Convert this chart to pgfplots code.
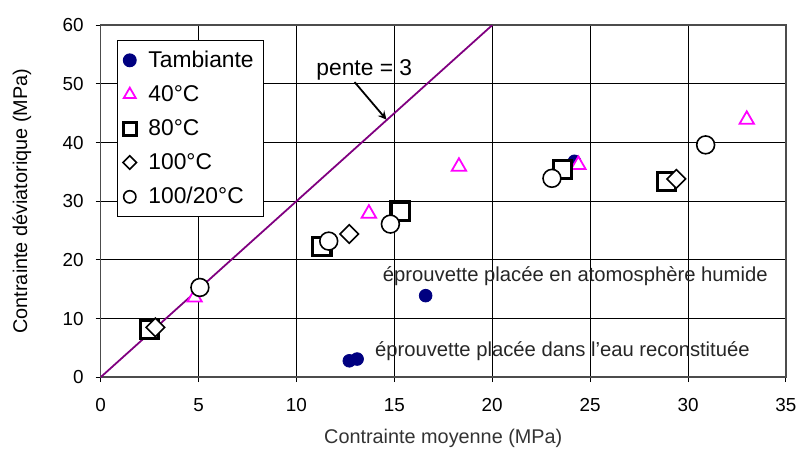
\documentclass[border={3pt 0pt 1pt 6pt}]{standalone}
\usepackage{pgfplots}
\pgfplotsset{compat=1.18}
\usepackage{fontspec}
\setmainfont{Liberation Sans}
\definecolor{navyb}{HTML}{000080}
\definecolor{mag}{HTML}{FF00FF}
\definecolor{pente}{HTML}{800080}
\begin{document}
\begin{tikzpicture}
\begin{axis}[
  scale only axis,
  width=345.5pt, height=177.5pt,
  xmin=0, xmax=35, ymin=0, ymax=60,
  xtick={0,5,...,35}, ytick={0,10,...,60},
  grid=major,
  major grid style={black, line width=0.5pt},
  axis line style={black!70, line width=0.8pt},
  tick align=outside, major tick length=2.5pt,
  tick style={black, line width=0.5pt},
  xtick pos=bottom, ytick pos=left,
  font=\fontsize{9.5}{10}\selectfont,
  /pgf/number format/assume math mode=true,
  xticklabel style={yshift=-4.5pt},
  yticklabel style={xshift=-2.5pt},
  xlabel={Contrainte moyenne (MPa)},
  ylabel={Contrainte déviatorique (MPa)},
  xlabel style={yshift=-2pt, text=black!80, font=\fontsize{10}{11}\selectfont},
  ylabel style={yshift=9pt, font=\fontsize{10}{11}\selectfont},
  legend style={at={(rel axis cs:0,1)}, anchor=north west, xshift=8pt, yshift=-7.5pt,
    draw=black, line width=0.6pt, fill=white, row sep=3.6pt, inner sep=3pt,
    font=\fontsize{11.5}{12}\selectfont,
    /tikz/every odd column/.append style={column sep=4pt}},
  legend cell align=left,
]
% points
\addplot[only marks, mark=*, mark size=3.2pt, navyb, mark options={fill=navyb}, forget plot] coordinates {
  (24.2,36.8) (16.6,13.9) (12.7,2.8) (13.1,3.1) (28.75,33.3)};
\addplot[only marks, mark=triangle*, mark size=4.2pt, mag, mark options={line width=0.9pt, fill=white}, forget plot] coordinates {
  (4.8,13.6) (13.7,27.9) (18.3,35.9) (24.4,36.2) (33.0,43.9)};
\addplot[only marks, mark=square*, mark size=4.6pt, black, mark options={line width=1.6pt, fill=white}, forget plot] coordinates {
  (2.5,8.2) (11.3,22.3) (15.3,28.3) (23.6,35.4) (28.9,33.4)};
\addplot[only marks, mark=square*, mark size=3.3pt, black, mark options={line width=0.8pt, fill=white, rotate=45}, forget plot] coordinates {
  (2.8,8.5) (12.7,24.4) (29.4,33.8)};
\addplot[only marks, mark=*, mark size=4.5pt, black, mark options={line width=0.8pt, fill=white}, forget plot] coordinates {
  (5.07,15.3) (11.65,23.2) (14.8,26.1) (23.05,33.9) (30.9,39.6)};
\addplot[pente, line width=0.9pt, forget plot] coordinates {(0,0) (20,60)};
% legend (smaller marks than in the plot)
\addlegendimage{only marks, mark=*, mark size=3.2pt, navyb, mark options={fill=navyb}}
\addlegendimage{only marks, mark=triangle*, mark size=3.5pt, mag, mark options={line width=0.9pt, fill=white}}
\addlegendimage{only marks, mark=square*, mark size=3.3pt, black, mark options={line width=1.5pt, fill=white}}
\addlegendimage{only marks, mark=square*, mark size=2.4pt, black, mark options={line width=0.8pt, fill=white, rotate=45}}
\addlegendimage{only marks, mark=*, mark size=3.1pt, black, mark options={line width=0.8pt, fill=white}}
\legend{Tambiante, 40°C, 80°C, 100°C, 100/20°C}
\node[anchor=west, font=\fontsize{11.5}{12}\selectfont, inner sep=0pt] at (axis cs:11.0,52.4) {pente = 3};
\draw[-stealth, black, line width=0.9pt] (axis cs:12.97,50.3) -- (axis cs:14.6,43.9);
\node[anchor=west, font=\fontsize{10.2}{11}\selectfont, inner sep=0pt, text=black!85] at (axis cs:14.4,17.2) {éprouvette placée en atomosphère humide};
\node[anchor=west, font=\fontsize{10.2}{11}\selectfont, inner sep=0pt, text=black!85] at (axis cs:14.0,4.5) {éprouvette placée dans l'eau reconstituée};
\end{axis}
\end{tikzpicture}
\end{document}
